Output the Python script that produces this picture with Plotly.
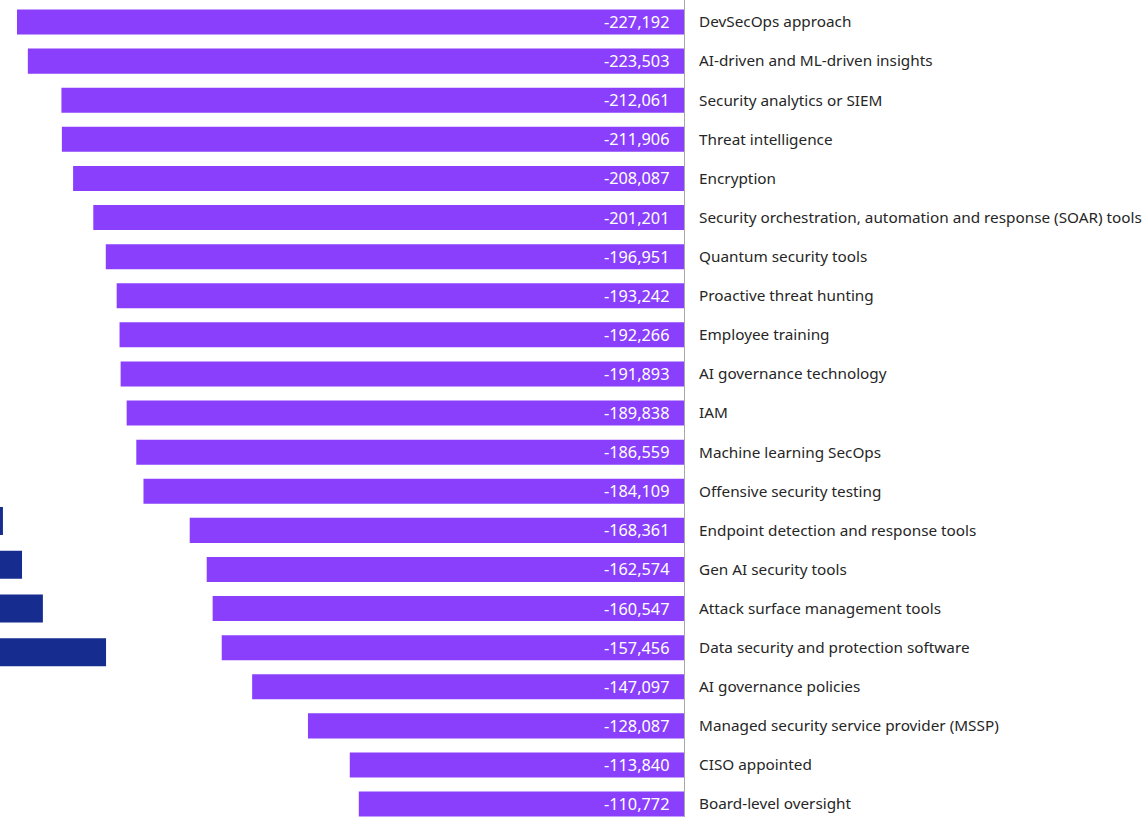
import plotly.graph_objects as go

categories = [
    "DevSecOps approach",
    "AI-driven and ML-driven insights",
    "Security analytics or SIEM",
    "Threat intelligence",
    "Encryption",
    "Security orchestration, automation and response (SOAR) tools",
    "Quantum security tools",
    "Proactive threat hunting",
    "Employee training",
    "AI governance technology",
    "IAM",
    "Machine learning SecOps",
    "Offensive security testing",
    "Endpoint detection and response tools",
    "Gen AI security tools",
    "Attack surface management tools",
    "Data security and protection software",
    "AI governance policies",
    "Managed security service provider (MSSP)",
    "CISO appointed",
    "Board-level oversight",
]
values = [
    -227192, -223503, -212061, -211906, -208087, -201201, -196951,
    -193242, -192266, -191893, -189838, -186559, -184109, -168361,
    -162574, -160547, -157456, -147097, -128087, -113840, -110772,
]

# partially visible bars of a neighbouring (cropped) panel
blue_categories = ["hidden 1", "hidden 2", "hidden 3", "hidden 4"]
blue_values = [1000, 7500, 14600, 36100]

PURPLE = "#8a3ffc"
BLUE = "#162c8f"
FONT = "Noto Sans"

fig = go.Figure()
fig.add_trace(go.Bar(
    x=values, y=categories, orientation="h",
    marker=dict(color=PURPLE, line=dict(width=0)),
    width=0.64, hoverinfo="skip", showlegend=False,
))
fig.add_trace(go.Bar(
    x=blue_values, y=blue_categories, orientation="h",
    marker=dict(color=BLUE, line=dict(width=0)),
    width=0.64, hoverinfo="skip", showlegend=False,
    xaxis="x2", yaxis="y2",
))

for c, v in zip(categories, values):
    fig.add_annotation(
        x=0, y=c, xref="x", yref="y", text=f"{v:,}",
        showarrow=False, xanchor="right", xshift=-13,
        font=dict(family=FONT, size=16.3, color="white"),
    )

fig.update_layout(
    width=1147, height=817,
    margin=dict(l=0, r=463, t=0, b=0),
    paper_bgcolor="white", plot_bgcolor="rgba(0,0,0,0)",
    font=dict(family=FONT, size=15.3, color="#262626"),
    xaxis=dict(range=[-232982, 0], showgrid=False, zeroline=False,
               showticklabels=False, showline=False, fixedrange=True),
    yaxis=dict(range=[20.33, -0.563], side="right", showgrid=False,
               zeroline=False, showline=True, linecolor="#a8a8a8",
               linewidth=1, ticks="", ticklabelstandoff=11,
               tickfont=dict(family=FONT, size=15.3, color="#262626")),
    xaxis2=dict(domain=[0, 0.335], range=[0, 78000], anchor="y2",
                showgrid=False, zeroline=False, showticklabels=False,
                showline=False),
    yaxis2=dict(domain=[0, 1], range=[6.77, -11.92], anchor="x2",
                showgrid=False, zeroline=False, showticklabels=False,
                showline=False),
)

fig.write_html("out.html", config={"displayModeBar": False},
               post_script="document.body.style.margin='0';")
